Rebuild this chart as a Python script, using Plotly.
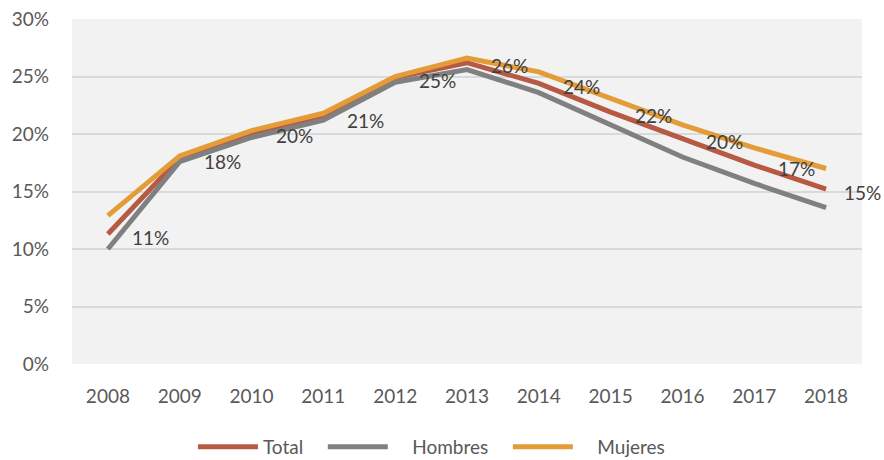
import plotly.graph_objects as go

years = ["2008", "2009", "2010", "2011", "2012", "2013", "2014", "2015", "2016", "2017", "2018"]
total = [11.3, 17.9, 20.1, 21.4, 24.9, 26.2, 24.4, 21.9, 19.6, 17.3, 15.2]
hombres = [10.0, 17.6, 19.7, 21.2, 24.5, 25.6, 23.6, 20.8, 18.0, 15.7, 13.6]
mujeres = [12.9, 18.1, 20.3, 21.8, 25.0, 26.6, 25.4, 23.1, 20.8, 18.8, 17.0]
y_ticks = [0, 5, 10, 15, 20, 25, 30]
series_names = ["Total", "Hombres", "Mujeres"]

font_family = "Lato, 'Open Sans', sans-serif"
NB = "\u00a0"
legend_labels = [
    series_names[0] + NB * 3,
    NB * 4 + series_names[1] + NB * 3,
    NB * 4 + series_names[2],
]

fig = go.Figure()
fig.add_trace(go.Scatter(
    x=years, y=total, name=legend_labels[0], mode="lines",
    line=dict(color="#b65a43", width=5), hoverinfo="skip",
))
fig.add_trace(go.Scatter(
    x=years, y=hombres, name=legend_labels[1], mode="lines",
    line=dict(color="#808080", width=5), hoverinfo="skip",
))
fig.add_trace(go.Scatter(
    x=years, y=mujeres, name=legend_labels[2], mode="lines",
    line=dict(color="#e39c37", width=5), hoverinfo="skip",
))

for i, v in enumerate(total):
    fig.add_annotation(
        x=i, y=v, xref="x", yref="y", text=f"{round(v)}%", showarrow=False,
        xanchor="left", yanchor="middle",
        xshift=16 if i == len(years) - 1 else 22, yshift=-3,
        font=dict(size=19, color="#404040", family=font_family),
    )

fig.update_layout(
    width=884, height=460,
    margin=dict(l=72, r=22, t=19, b=96, autoexpand=False),
    paper_bgcolor="white",
    plot_bgcolor="#f2f2f2",
    font=dict(family=font_family, size=19, color="#595959"),
    showlegend=True,
    legend=dict(orientation="h", x=0.455, xanchor="center", y=-0.24, yanchor="middle",
                font=dict(size=19, color="#595959"), itemwidth=60,
                traceorder="normal"),
    xaxis=dict(type="category", range=[-0.5, 10.5], showgrid=False, zeroline=False,
               showline=False, ticks="", automargin=False, ticklabelstandoff=19,
               tickfont=dict(size=19, color="#595959")),
    yaxis=dict(range=[0, 30], tickvals=y_ticks, ticktext=[f"{t}%" for t in y_ticks],
               showgrid=True, automargin=False, ticklabelstandoff=22,
               gridcolor="#d9d9d9", gridwidth=1.5, zeroline=False, showline=False,
               ticks="", tickfont=dict(size=19, color="#595959")),
)

fig.write_html("out.html", config={"displayModeBar": False},
               post_script="document.body.style.margin='0';document.body.style.overflow='hidden';")
